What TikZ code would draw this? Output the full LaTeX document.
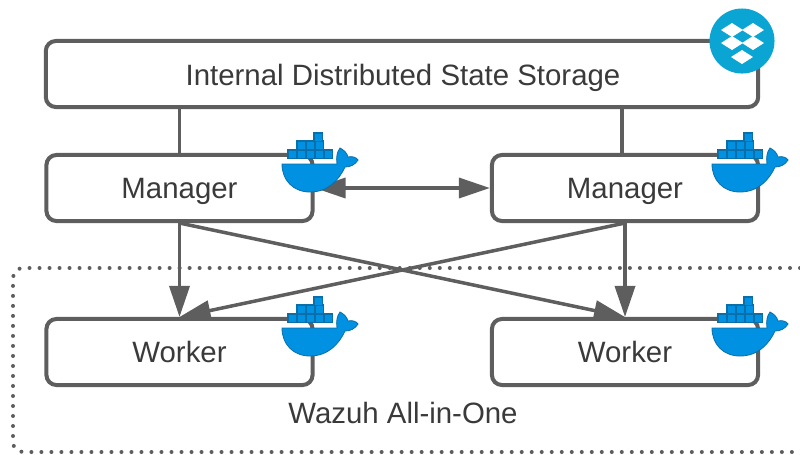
\documentclass[tikz,border=0pt]{standalone}
\usepackage{fontspec}
\setmainfont{Liberation Sans}
\usetikzlibrary{arrows.meta}
\definecolor{lineGray}{HTML}{5E5E5E}
\definecolor{textGray}{HTML}{3A3A3A}
\definecolor{dockerBlue}{HTML}{0091E2}
\definecolor{dockerEdge}{HTML}{0A6FA8}
\definecolor{dropBlue}{HTML}{0AA5D3}
\tikzset{
	label/.style={text=textGray, font=\fontsize{8.36}{10}\selectfont, text height=.21cm, text depth=0pt, inner sep=0pt},
	box/.style={draw=lineGray, line width=.04cm, rounded corners=.1cm, fill=white, minimum height=.66cm, minimum width=2.66cm, inner sep=0pt},
	link/.style={draw=lineGray, line width=.035cm},
	flow/.style={link, -{Triangle[length=.31cm,width=.2cm]}},
	twoway/.style={link, {Triangle[length=.31cm,width=.2cm]}-{Triangle[length=.31cm,width=.2cm]}},
}
\newcommand{\DockerIcon}[2]{
	\begin{scope}[shift={(#1,#2)}]
		\foreach \x/\y in {28/30,37/30,46/30,55/30,64/30,37/21,46/21,55/21,54/13}
			\draw[fill=dockerBlue, draw=dockerEdge, line width=.012cm] (\x,\y) rectangle ++(8.6,8.6);
		\fill[dockerBlue, draw=dockerEdge, line width=.008cm] (22,44) -- (77,44)
			.. controls (76,37) and (77,32) .. (80,28)
			.. controls (84,30) and (87,33) .. (88,37)
			.. controls (92,36) and (96,37) .. (98,40)
			.. controls (95,45) and (90,47) .. (85,47)
			.. controls (79,60) and (68,72) .. (50,72)
			.. controls (33,72) and (22,60) .. (22,44) -- cycle;
	\end{scope}
}
\newcommand{\DropboxIcon}[2]{
	\begin{scope}[shift={(#1,#2)}]
		\fill[dropBlue] (0,0) circle (.325cm);
		\foreach \x/\y in {-10/-11,11/-11,-10/2,11/2,0/16}
			\fill[white] (\x-11,\y) -- (\x,\y-7) -- (\x+11,\y) -- (\x,\y+7) -- cycle;
	\end{scope}
}
\begin{document}
\begin{tikzpicture}[x=.01cm,y=-.01cm]
	\useasboundingbox (0,0) rectangle (800,454);
	% outer group
	\draw[lineGray, line width=.04cm, line cap=round, dash pattern=on 0pt off .1cm, rounded corners=.1cm] (800,268) -- (13,268) -- (13,452) -- (800,452);
	\node[label] (group) at (403,413) {Wazuh All-in-One};
	% boxes
	\node[box, minimum width=7.12cm] (store) at (402,74) {};
	\node[label] (storeText) at (403,75) {Internal Distributed State Storage};
	\node[box] (mgrA) at (179.5,188) {};
	\node[box] (mgrB) at (625,188) {};
	\node[box] (wrkA) at (179.5,352) {};
	\node[box] (wrkB) at (625,352) {};
	\node[label] (mgrAText) at (mgrA) {Manager};
	\node[label] (mgrBText) at (mgrB) {Manager};
	\node[label] (wrkAText) at (wrkA) {Worker};
	\node[label] (wrkBText) at (wrkB) {Worker};
	% connectors
	\coordinate (tapB) at (622,130);
	\draw[link] (store.south -| mgrA) -- (mgrA.north);
	\draw[link] (store.south -| tapB) -- (mgrB.north -| tapB);
	\draw[twoway] (mgrA.east) -- (mgrB.west);
	\draw[flow] (mgrA.south) -- (wrkA.north);
	\draw[flow] (mgrA.south) -- (wrkB.north);
	\draw[flow] (mgrB.south) -- (wrkA.north);
	\draw[flow] (mgrB.south) -- (wrkB.north);
	% icons
	\DockerIcon{260}{120}
	\DockerIcon{690}{120}
	\DockerIcon{260}{284}
	\DockerIcon{690}{284}
	\DropboxIcon{742}{41}
\end{tikzpicture}
\end{document}
